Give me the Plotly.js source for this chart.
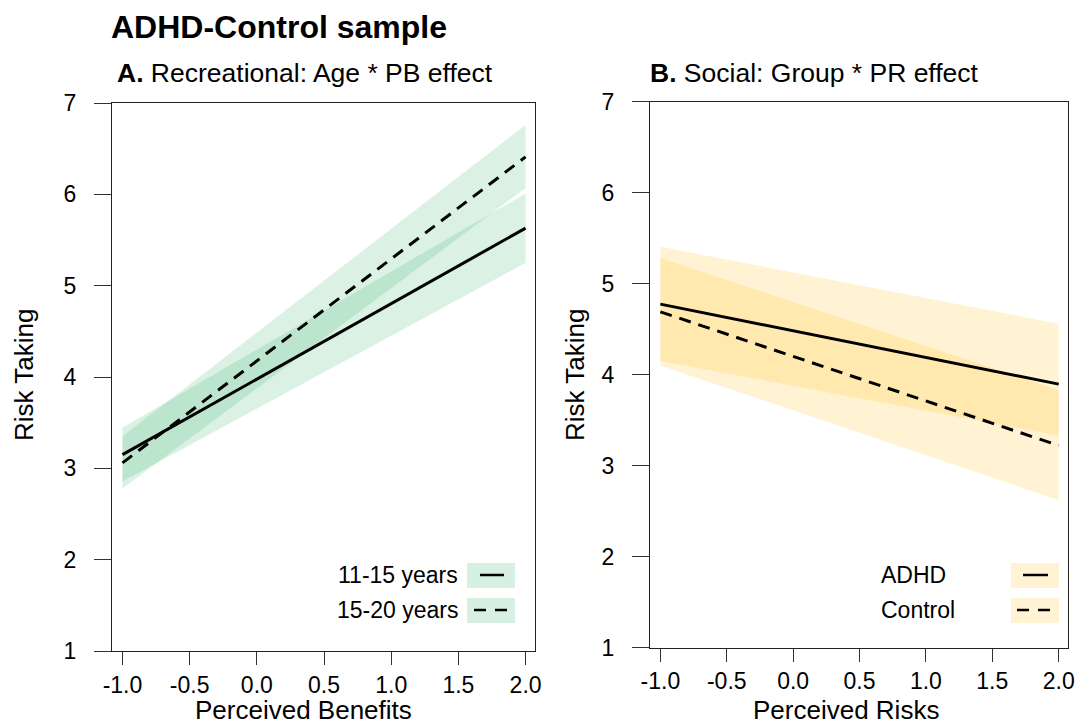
<!DOCTYPE html>
<html>
<head>
<meta charset="utf-8">
<script src="https://cdn.plot.ly/plotly-3.0.1.min.js"></script>
<style>html,body{margin:0;padding:0;background:#fff;}#chart{width:1084px;height:726px;}</style>
</head>
<body>
<div id="chart"></div>
<script>
// ---- Data ----
const xTicks = [-1.0, -0.5, 0.0, 0.5, 1.0, 1.5, 2.0];
const xTickLabels = ['-1.0', '-0.5', '0.0', '0.5', '1.0', '1.5', '2.0'];
const yTicks = [1, 2, 3, 4, 5, 6, 7];

// Panel A: Recreational, Age * Perceived Benefits
const xPB = [-1, 2];
const age1115Fit = [3.15, 5.63];
const age1115Lo  = [2.855, 5.25];
const age1115Hi  = [3.445, 6.01];
const age1520Fit = [3.06, 6.41];
const age1520Lo  = [2.78, 6.07];
const age1520Hi  = [3.35, 6.76];

// Panel B: Social, Group * Perceived Risks
const xPR = [-1, 2];
const adhdFit = [4.775, 3.895];
const adhdLo  = [4.15, 3.33];
const adhdHi  = [5.405, 4.56];
const ctrlFit = [4.69, 3.22];
const ctrlLo  = [4.10, 2.62];
const ctrlHi  = [5.28, 3.83];

const legendA = ['11-15 years', '15-20 years'];
const legendB = ['ADHD', 'Control'];

// ---- Styles ----
const FONT = 'Liberation Sans, Arial, Helvetica, sans-serif';
const GREEN = 'rgba(60,179,113,0.19)';
const GREEN_LEG = 'rgba(60,179,113,0.20)';
const YELLOW = 'rgba(255,193,37,0.20)';
const YELLOW_LEG = 'rgba(255,193,37,0.20)';
const DASH = '12px,8px';

function band(x, lo, hi, color, xa, ya) {
  return {
    type: 'scatter', mode: 'lines', xaxis: xa, yaxis: ya,
    x: x.concat(x.slice().reverse()),
    y: lo.concat(hi.slice().reverse()),
    fill: 'toself', fillcolor: color, line: {width: 0, color: 'rgba(0,0,0,0)'},
    hoverinfo: 'skip'
  };
}
function fitLine(x, y, dash, xa, ya) {
  return {
    type: 'scatter', mode: 'lines', xaxis: xa, yaxis: ya, x: x, y: y,
    line: {color: '#000', width: 3, dash: dash}, hoverinfo: 'skip'
  };
}

const traces = [
  band(xPB, age1115Lo, age1115Hi, GREEN, 'x', 'y'),
  band(xPB, age1520Lo, age1520Hi, GREEN, 'x', 'y'),
  fitLine(xPB, age1115Fit, 'solid', 'x', 'y'),
  fitLine(xPB, age1520Fit, DASH, 'x', 'y'),
  band(xPR, adhdLo, adhdHi, YELLOW, 'x2', 'y2'),
  band(xPR, ctrlLo, ctrlHi, YELLOW, 'x2', 'y2'),
  fitLine(xPR, adhdFit, 'solid', 'x2', 'y2'),
  fitLine(xPR, ctrlFit, DASH, 'x2', 'y2')
];

const W = 1084, H = 726;
const px = v => v / W;
const py = v => 1 - v / H;

function xAxis(domain, anchor) {
  return {
    domain: domain, anchor: anchor, range: [-1.078, 2.07],
    tickvals: xTicks, ticktext: xTickLabels, ticks: 'outside', ticklen: 13,
    tickcolor: '#333', tickwidth: 1, showline: true, linecolor: '#222', linewidth: 1,
    mirror: true, showgrid: false, zeroline: false,
    tickfont: {size: 23, family: FONT, color: '#000'}, ticklabelstandoff: 0
  };
}
function yAxis(domain, anchor) {
  return {
    domain: domain, anchor: anchor, range: [1, 7],
    tickvals: yTicks, ticks: 'outside', ticklen: 17,
    tickcolor: '#333', tickwidth: 1, showline: true, linecolor: '#222', linewidth: 1,
    mirror: true, showgrid: false, zeroline: false,
    tickfont: {size: 23, family: FONT, color: '#000'}, ticklabelstandoff: 13
  };
}

function ann(text, x, y, opts) {
  return Object.assign({
    text: text, xref: 'paper', yref: 'paper', x: px(x), y: py(y),
    showarrow: false, xanchor: 'left', yanchor: 'middle',
    font: {family: FONT, size: 23, color: '#000'}
  }, opts || {});
}

const annotations = [
  ann('<b>ADHD-Control sample</b>', 109, 27, {font: {family: FONT, size: 32, color: '#000'}}),
  ann('<b>A.</b> Recreational: Age * PB effect', 115, 73, {font: {family: FONT, size: 26.5, color: '#000'}}),
  ann('<b>B.</b> Social: Group * PR effect', 648, 73, {font: {family: FONT, size: 26.5, color: '#000'}}),
  ann('Perceived Benefits', 303, 710, {xanchor: 'center', font: {family: FONT, size: 26, color: '#000'}}),
  ann('Perceived Risks', 846, 710, {xanchor: 'center', font: {family: FONT, size: 26, color: '#000'}}),
  ann('Risk Taking', 24, 375, {xanchor: 'center', textangle: -90, font: {family: FONT, size: 26, color: '#000'}}),
  ann('Risk Taking', 575, 375, {xanchor: 'center', textangle: -90, font: {family: FONT, size: 26, color: '#000'}}),
  ann(legendA[0], 460, 575, {xanchor: 'right'}),
  ann(legendA[1], 460, 610, {xanchor: 'right'}),
  ann(legendB[0], 879, 575),
  ann(legendB[1], 879, 610)
];

function rect(x0, x1, y0, y1, color) {
  return {type: 'rect', xref: 'paper', yref: 'paper', x0: px(x0), x1: px(x1), y0: py(y1), y1: py(y0),
          fillcolor: color, line: {width: 0}, layer: 'below'};
}
function seg(x0, x1, y, dash) {
  return {type: 'line', xref: 'paper', yref: 'paper', x0: px(x0), x1: px(x1), y0: py(y), y1: py(y),
          line: {color: '#000', width: 2.5, dash: dash}};
}

const shapes = [
  rect(467, 515, 563, 588, GREEN_LEG),
  rect(467, 515, 598, 623, GREEN_LEG),
  seg(480, 504, 575, 'solid'),
  seg(474, 507, 610, '12px,9px'),
  rect(1011, 1059, 563, 588, YELLOW_LEG),
  rect(1011, 1059, 598, 623, YELLOW_LEG),
  seg(1023, 1048, 575, 'solid'),
  seg(1017, 1051, 610, '12px,9px')
];

const layout = {
  width: W, height: H, margin: {l: 0, r: 0, t: 0, b: 0},
  paper_bgcolor: '#fff', plot_bgcolor: '#fff', showlegend: false,
  font: {family: FONT, color: '#000'},
  xaxis: xAxis([px(112), px(535)], 'y'),
  yaxis: yAxis([1 - 651 / H, 1 - 103 / H], 'x'),
  xaxis2: xAxis([px(650), px(1068)], 'y2'),
  yaxis2: yAxis([1 - 647.5 / H, 1 - 101.7 / H], 'x2'),
  annotations: annotations,
  shapes: shapes
};

Plotly.newPlot('chart', traces, layout, {staticPlot: true, displayModeBar: false});
</script>
</body>
</html>
